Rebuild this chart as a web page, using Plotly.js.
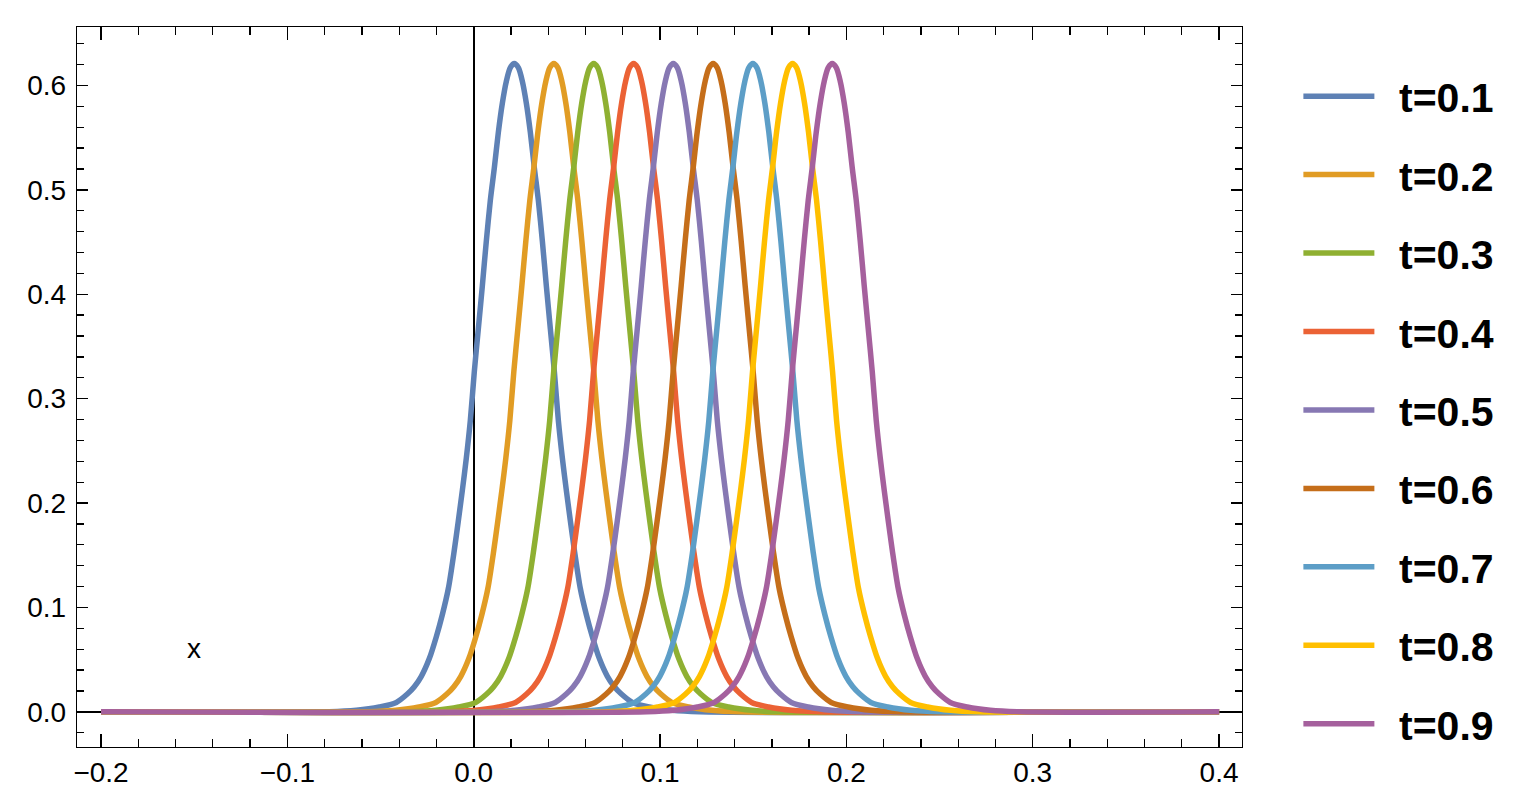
<!DOCTYPE html>
<html>
<head>
<meta charset="utf-8">
<script src="https://cdn.plot.ly/plotly-3.0.1.min.js"></script>
<style>
  html, body { margin: 0; padding: 0; background: #fff; }
  #plot { width: 1517px; height: 800px; }
</style>
</head>
<body>
<div id="plot"></div>
<script>
// legend labels and the peak position of each curve
let labels = ["t=0.1", "t=0.2", "t=0.3", "t=0.4", "t=0.5", "t=0.6", "t=0.7", "t=0.8", "t=0.9"];
let centers = [0.0218, 0.0430, 0.0644, 0.0858, 0.1071, 0.1285, 0.1498, 0.1711, 0.1924];
let colors = ["#5E81B5", "#E19C24", "#8FB032", "#EB6235", "#8778B3", "#C56E1A", "#5D9EC7", "#FFBF00", "#A5609D"];

// pulse profile: distance from the peak and height
let profileDx = [0, 0.00215, 0.0043, 0.00644, 0.00859, 0.01074, 0.01288, 0.01503, 0.01718,
    0.01932, 0.02147, 0.02362, 0.02577, 0.02791, 0.03006, 0.03221, 0.03543, 0.03865, 0.04187,
    0.04563, 0.04992, 0.05368, 0.05743, 0.06334, 0.07246, 0.08481, 0.0993];
let profileY = [0.621, 0.617, 0.604, 0.583, 0.555, 0.521, 0.490, 0.451, 0.408,
    0.367, 0.326, 0.279, 0.243, 0.212, 0.183, 0.155, 0.118, 0.093, 0.072,
    0.051, 0.034, 0.024, 0.017, 0.009, 0.0046, 0.0014, 0];

let xStart = -0.2, xEnd = 0.4;

let traces = labels.map((label, i) => {
    let xs = [xStart], ys = [0];
    for (let k = profileDx.length - 1; k > 0; k--) {
        xs.push(centers[i] - profileDx[k]);
        ys.push(profileY[k]);
    }
    for (let k = 0; k < profileDx.length; k++) {
        xs.push(centers[i] + profileDx[k]);
        ys.push(profileY[k]);
    }
    xs.push(xEnd);
    ys.push(0);
    return {
        x: xs,
        y: ys,
        type: "scatter",
        mode: "lines",
        name: "\u00A0\u2009" + label,
        legendgroup: label,
        line: { color: colors[i], width: 5.5, shape: "spline", smoothing: 0.8 },
        hoverinfo: "skip"
    };
});

let tickFont = { family: "Liberation Sans, Arial, sans-serif", size: 28, color: "#000" };

let layout = {
    width: 1517,
    height: 800,
    margin: { l: 77, r: 275, t: 27, b: 53 },
    paper_bgcolor: "#fff",
    plot_bgcolor: "#fff",
    showlegend: true,
    legend: {
        x: 1.0484, xanchor: "left",
        y: 0.95, yanchor: "top",
        font: { family: "Liberation Sans, Arial, sans-serif", size: 41, color: "#000", weight: "bold" },
        tracegroupgap: 22.15,
        itemwidth: 71
    },
    xaxis: {
        range: [-0.2129, 0.4123],
        tickvals: [-0.2, -0.1, 0, 0.1, 0.2, 0.3, 0.4],
        tickformat: ".1f",
        ticks: "inside", ticklen: 13, tickcolor: "#000", tickwidth: 1.3,
        minor: { dtick: 0.02, ticks: "inside", ticklen: 8, tickcolor: "#000", tickwidth: 1.3 },
        showline: true, linecolor: "#000", linewidth: 1.3, mirror: "allticks",
        showgrid: false,
        zeroline: true, zerolinecolor: "#000", zerolinewidth: 1.6,
        tickfont: tickFont
    },
    yaxis: {
        range: [-0.0337, 0.656],
        tickvals: [0, 0.1, 0.2, 0.3, 0.4, 0.5, 0.6],
        tickformat: ".1f",
        ticks: "inside", ticklen: 11, tickcolor: "#000", tickwidth: 1.3,
        minor: { dtick: 0.02, ticks: "inside", ticklen: 7, tickcolor: "#000", tickwidth: 1.3 },
        showline: true, linecolor: "#000", linewidth: 1.3, mirror: "allticks",
        showgrid: false,
        zeroline: true, zerolinecolor: "#000", zerolinewidth: 1.6,
        ticklabelstandoff: 4,
        tickfont: tickFont
    },
    annotations: [{
        x: -0.15, y: 0.061, xref: "x", yref: "y",
        text: "x", showarrow: false,
        font: { family: "Liberation Sans, Arial, sans-serif", size: 28, color: "#000" }
    }]
};

Plotly.newPlot("plot", traces, layout, { displayModeBar: false, staticPlot: true });
</script>
</body>
</html>
